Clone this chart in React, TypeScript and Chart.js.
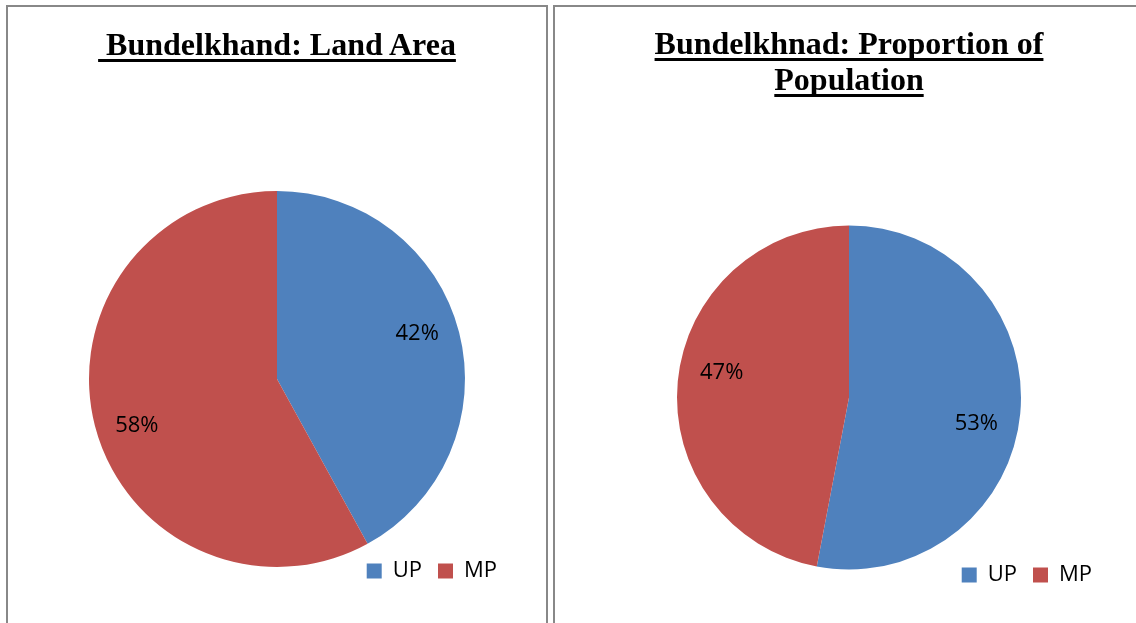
import React, { useEffect, useRef } from "react";
import { Chart, registerables } from "chart.js";

Chart.register(...registerables);

const categories = ["UP", "MP"];
const landAreaPct = [42, 58];
const populationPct = [53, 47];
const sliceColors = ["#4F81BD", "#C0504D"];
const leftTitle = " Bundelkhand: Land Area";
const rightTitleLines = ["Bundelkhnad: Proportion of", "Population"];

const pctLabels = {
  id: "pctLabels",
  afterDatasetsDraw(chart: any, _args: any, opts: any) {
    const ctx = chart.ctx;
    const meta = chart.getDatasetMeta(0);
    const values = chart.data.datasets[0].data;
    ctx.save();
    ctx.font = "22px 'Open Sans'";
    ctx.fillStyle = "#000";
    ctx.textAlign = "center";
    ctx.textBaseline = "middle";
    meta.data.forEach((arc: any, i: number) => {
      const p = arc.getProps(["x", "y", "startAngle", "endAngle", "outerRadius"], true);
      const mid = (p.startAngle + p.endAngle) / 2 + ((opts.angleShift || 0) * Math.PI) / 180;
      const r = p.outerRadius * (opts.radiusFactor || 0.75);
      ctx.fillText(values[i] + "%", p.x + Math.cos(mid) * r, p.y + Math.sin(mid) * r + (opts.dy || 0));
    });
    ctx.restore();
  },
};

type PieProps = {
  values: number[];
  width: number;
  height: number;
  radius: number;
  padding: { left: number; right: number; top: number; bottom: number };
  angleShift: number;
  radiusFactor: number;
};

function PieCanvas({ values, width, height, radius, padding, angleShift, radiusFactor }: PieProps) {
  const ref = useRef<HTMLCanvasElement | null>(null);
  useEffect(() => {
    if (!ref.current) return;
    const chart = new Chart(ref.current, {
      type: "pie",
      data: {
        labels: categories,
        datasets: [
          {
            data: values,
            backgroundColor: sliceColors,
            borderWidth: 0,
            radius: radius,
          } as any,
        ],
      },
      options: {
        responsive: false,
        animation: false,
        layout: { padding },
        plugins: {
          title: { display: false },
          tooltip: { enabled: false },
          legend: {
            display: true,
            position: "bottom",
            align: "end",
            labels: {
              boxWidth: 15,
              boxHeight: 15,
              padding: 16,
              color: "#000",
              font: { family: "'Open Sans'", size: 22 },
            },
          },
          pctLabels: { angleShift, radiusFactor, dy: 1 },
        } as any,
      },
      plugins: [pctLabels],
    });
    return () => chart.destroy();
  }, []);
  return <canvas ref={ref} width={width} height={height} style={{ display: "block" }} />;
}

const titleStyle: React.CSSProperties = {
  position: "absolute",
  width: 600,
  textAlign: "center",
  fontFamily: "'Liberation Serif', 'Times New Roman', serif",
  fontWeight: "bold",
  fontSize: 32,
  lineHeight: "36px",
  color: "#000",
  whiteSpace: "pre",
};

const underline: React.CSSProperties = {
  textDecorationLine: "underline",
  textDecorationThickness: "3px",
  textUnderlineOffset: "4px",
  textDecorationSkipInk: "none",
} as any;

export default function App() {
  return (
    <div
      style={{
        position: "fixed",
        left: 0,
        top: 0,
        width: 1136,
        height: 623,
        overflow: "hidden",
        background: "#fff",
      }}
    >
      <div
        style={{
          position: "absolute",
          left: 6,
          top: 5,
          width: 538,
          height: 640,
          border: "2px solid #888",
        }}
      >
        <div style={{ position: "absolute", left: 0, top: 0 }}>
          <PieCanvas
            values={landAreaPct}
            width={538}
            height={616}
            radius={188}
            padding={{ left: 33, right: 33, top: 207, bottom: 31 }}
            angleShift={-3.8}
            radiusFactor={0.785}
          />
        </div>
        <div style={{ ...titleStyle, left: 269 - 300, top: 19 }}>
          <span style={underline}>{leftTitle}</span>
        </div>
      </div>
      <div
        style={{
          position: "absolute",
          left: 553,
          top: 5,
          width: 600,
          height: 640,
          border: "2px solid #888",
        }}
      >
        <div style={{ position: "absolute", left: 0, top: 0 }}>
          <PieCanvas
            values={populationPct}
            width={581}
            height={616}
            radius={172}
            padding={{ left: 35, right: 28, top: 240, bottom: 27 }}
            angleShift={5.9}
            radiusFactor={0.755}
          />
        </div>
        <div style={{ ...titleStyle, left: 294 - 300, top: 18 }}>
          <span style={underline}>{rightTitleLines[0]}</span>
          <br />
          <span style={underline}>{rightTitleLines[1]}</span>
        </div>
      </div>
    </div>
  );
}
